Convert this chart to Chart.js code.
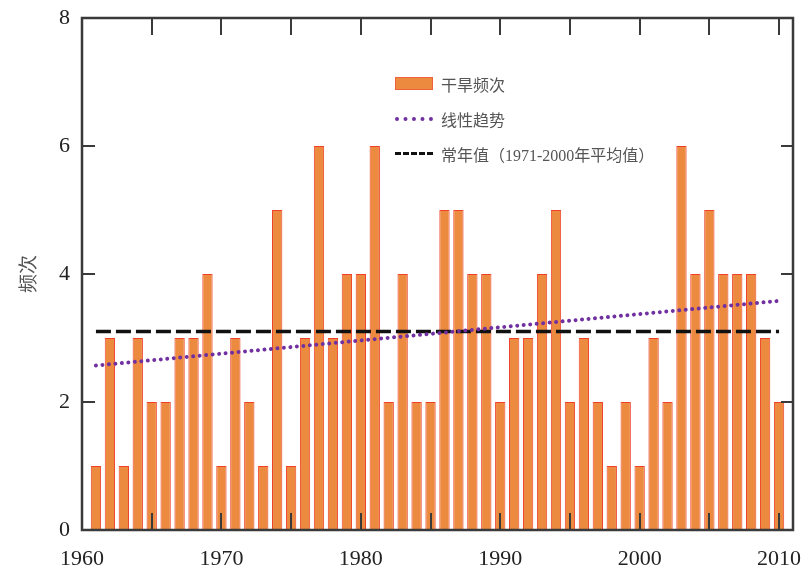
<!DOCTYPE html>
<html>
<head>
<meta charset="utf-8">
<script src="https://cdn.jsdelivr.net/npm/chart.js@4.4.0/dist/chart.umd.min.js"></script>
<style>
    html, body { margin: 0; padding: 0; background: #fff; }
    #wrap { position: relative; width: 803px; height: 575px; }
    #legend {
        position: absolute; left: 395px; top: 66px;
        font-family: 'Liberation Serif', 'Noto Sans CJK SC', serif;
        font-size: 16px; color: #555;
    }
    #legend .row { display: flex; align-items: center; height: 35px; }
    #legend .key { width: 38px; margin-right: 8px; }
    .k-bar { height: 13px; background: #ec8a40; border: 1px solid #f0603a; box-sizing: border-box; }
    .k-trend { height: 0; border-top: 4px dotted #7030a0; }
    .k-norm { height: 0; border-top: 3px dashed #111; }
</style>
</head>
<body>
<div id="wrap">
    <canvas id="chartDrought" width="803" height="575"></canvas>
    <div id="legend"></div>
</div>
<script>
(function () {
    'use strict';

    var years = [];
    for (var yr = 1961; yr <= 2010; yr++) years.push(yr);

    // 干旱频次 1961-2010
    var droughtCount = [
        1, 3, 1, 3, 2, 2, 3, 3, 4, 1,
        3, 2, 1, 5, 1, 3, 6, 3, 4, 4,
        6, 2, 4, 2, 2, 5, 5, 4, 4, 2,
        3, 3, 4, 5, 2, 3, 2, 1, 2, 1,
        3, 2, 6, 4, 5, 4, 4, 4, 3, 2
    ];
    var trendYears = [1961, 2010];
    var trendValues = [2.57, 3.58];
    var normalYears = [1961, 2010];
    var normalValues = [3.1, 3.1];

    var xLabelYears = [1960, 1970, 1980, 1990, 2000, 2010];
    var xMarkYears = [1965, 1970, 1975, 1980, 1985, 1990, 1995, 2000, 2005, 2010];
    var yTicks = [0, 2, 4, 6, 8];

    var labels = ['干旱频次', '线性趋势', '常年值（1971-2000年平均值）'];

    var orange = '#ec8a40';
    var red = '#f0402a';
    var purple = '#7030a0';
    var frame = '#3a3a3a';

    function pts(xs, ys) {
        return xs.map(function (x, i) { return { x: x, y: ys[i] }; });
    }

    var frameTicks = {
        id: 'frameTicks',
        afterDatasetsDraw: function (chart) {
            var ctx = chart.ctx, a = chart.chartArea;
            var xs = chart.scales.x, ys = chart.scales.y;
            ctx.save();
            ctx.strokeStyle = frame;
            ctx.lineWidth = 2;
            xMarkYears.forEach(function (v) {
                var px = Math.round(xs.getPixelForValue(v));
                ctx.beginPath();
                ctx.moveTo(px, a.bottom); ctx.lineTo(px, a.bottom - 17);
                ctx.moveTo(px, a.top); ctx.lineTo(px, a.top + 17);
                ctx.stroke();
            });
            yTicks.forEach(function (v) {
                var py = Math.round(ys.getPixelForValue(v));
                ctx.beginPath();
                ctx.moveTo(a.left, py); ctx.lineTo(a.left + 13, py);
                ctx.moveTo(a.right, py); ctx.lineTo(a.right - 12, py);
                ctx.stroke();
            });
            ctx.lineWidth = 2.5;
            ctx.strokeRect(a.left, a.top, a.right - a.left, a.bottom - a.top);
            ctx.restore();
        }
    };

    var tickFont = { family: "'Liberation Serif', serif", size: 22 };

    new Chart(document.getElementById('chartDrought'), {
        type: 'bar',
        data: {
            datasets: [
                {
                    type: 'line',
                    label: labels[1],
                    data: pts(trendYears, trendValues),
                    borderColor: purple,
                    borderWidth: 4,
                    borderDash: [0.01, 6.5],
                    borderCapStyle: 'round',
                    pointRadius: 0,
                    order: 1
                },
                {
                    type: 'line',
                    label: labels[2],
                    data: pts(normalYears, normalValues),
                    borderColor: '#111',
                    borderWidth: 3.5,
                    borderDash: [15, 5],
                    pointRadius: 0,
                    order: 2
                },
                {
                    label: labels[0],
                    data: pts(years, droughtCount),
                    backgroundColor: orange,
                    borderColor: red,
                    borderWidth: 1,
                    barPercentage: 0.74,
                    categoryPercentage: 1,
                    order: 3
                }
            ]
        },
        options: {
            responsive: false,
            animation: false,
            layout: { padding: { top: 18, right: 10, left: 0, bottom: 0 } },
            plugins: {
                legend: { display: false },
                tooltip: { enabled: false }
            },
            scales: {
                x: {
                    type: 'linear',
                    offset: false,
                    min: 1960,
                    max: 2011,
                    grid: { display: false, drawTicks: false, offset: false },
                    border: { display: false },
                    afterBuildTicks: function (s) {
                        s.ticks = xLabelYears.map(function (v) { return { value: v }; });
                    },
                    afterFit: function (s) {
                        s.height = 45;
                        s.paddingLeft = 0;
                        s.paddingRight = 0;
                    },
                    ticks: {
                        font: tickFont,
                        color: '#222',
                        padding: 16,
                        maxRotation: 0,
                        callback: function (v) { return String(v); }
                    }
                },
                y: {
                    min: 0,
                    max: 8,
                    grid: { display: false, drawTicks: false },
                    border: { display: false },
                    afterBuildTicks: function (s) {
                        s.ticks = yTicks.map(function (v) { return { value: v }; });
                    },
                    afterFit: function (s) {
                        s.width = 82;
                        s.paddingTop = 0;
                        s.paddingBottom = 0;
                    },
                    ticks: { font: tickFont, color: '#222', padding: 12 },
                    title: {
                        display: true,
                        text: '频次',
                        color: '#555',
                        font: { family: "'Noto Sans CJK SC', sans-serif", size: 19 },
                        padding: { top: 16, bottom: 0 }
                    }
                }
            }
        },
        plugins: [frameTicks]
    });

    var keys = ['k-bar', 'k-trend', 'k-norm'];
    var legendEl = document.getElementById('legend');
    labels.forEach(function (t, i) {
        var row = document.createElement('div');
        row.className = 'row';
        var k = document.createElement('div');
        k.className = 'key ' + keys[i];
        var s = document.createElement('span');
        s.textContent = t;
        row.appendChild(k);
        row.appendChild(s);
        legendEl.appendChild(row);
    });
})();
</script>
</body>
</html>
